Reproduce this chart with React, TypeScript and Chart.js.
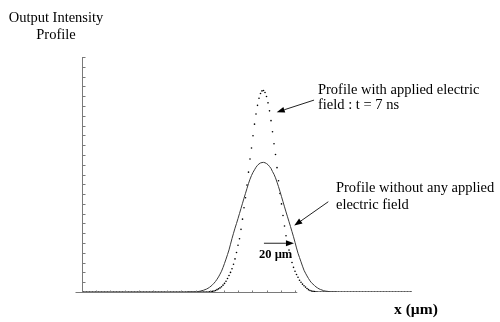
import React, { useEffect, useRef } from "react";
import { Chart, registerables } from "chart.js";

Chart.register(...registerables);

// ---- data (x in µm along the sample grid, intensity in arbitrary units) ----
const X_MIN = 0;
const X_MAX = 220;
const Y_MAX = 1.2;

// intensity with applied electric field (t = 7 ns), sampled every 1 µm from 0 to 220
const dottedProfile = [
  0, 0, 0, 0, 0, 0, 0, 0, 0, 0, 0, 0, 0, 0, 0, 0, 0, 0, 0, 0,
  0, 0, 0, 0, 0, 0, 0, 0, 0, 0, 0, 0, 0, 0, 0, 0, 0, 0, 0, 0,
  0, 0, 0, 0, 0, 0, 0, 0, 0, 0, 0, 0, 0, 0, 0, 0, 0, 0, 0, 0,
  0, 0, 0, 0, 0, 0, 0, 0, 0, 0, 0, 0, 0, 0, 0, 0, 0, 0, 0, 0,
  0, 0, 0, 0, 0,
  0.001, 0.002, 0.003, 0.005, 0.008, 0.012, 0.016, 0.021, 0.027, 0.035,
  0.044, 0.055, 0.069, 0.084, 0.1, 0.119, 0.142, 0.169, 0.202, 0.239,
  0.272, 0.32, 0.372, 0.43, 0.481, 0.546, 0.612, 0.679, 0.735, 0.798,
  0.857, 0.909, 0.953, 0.989, 1.014, 1.027, 1.029, 1.019, 0.998, 0.966,
  0.925, 0.875, 0.818, 0.757, 0.702, 0.635, 0.568, 0.503, 0.45, 0.391,
  0.337, 0.287, 0.253, 0.214, 0.18, 0.151, 0.126, 0.106, 0.089, 0.075,
  0.06, 0.05, 0.04, 0.032, 0.025, 0.018, 0.012, 0.008, 0.005, 0.003,
  0.002, 0.001,
  0, 0, 0, 0, 0, 0, 0, 0, 0, 0, 0, 0, 0, 0, 0, 0, 0, 0, 0, 0,
  0, 0, 0, 0, 0, 0, 0, 0, 0, 0, 0, 0, 0, 0, 0, 0, 0, 0, 0, 0,
  0, 0, 0, 0, 0, 0, 0, 0, 0, 0, 0, 0, 0, 0, 0, 0, 0, 0, 0, 0,
  0, 0, 0, 0,
];

// intensity without applied field, sampled every 1 µm from 70 to 170
const SOLID_START = 70;
const solidProfile = [
  0, 0, 0, 0, 0, 0,
  0.001, 0.002, 0.003, 0.005, 0.007, 0.009, 0.012, 0.015, 0.019, 0.024,
  0.03, 0.037, 0.045, 0.054, 0.065, 0.077, 0.091, 0.106, 0.125, 0.146,
  0.168, 0.191, 0.215, 0.244, 0.273, 0.3, 0.326, 0.35, 0.375, 0.401,
  0.427, 0.453, 0.479, 0.504, 0.529, 0.554, 0.576, 0.595, 0.611, 0.624,
  0.637, 0.647, 0.654, 0.659, 0.661, 0.662, 0.66, 0.656, 0.65, 0.641,
  0.631, 0.615, 0.601, 0.583, 0.561, 0.538, 0.513, 0.487, 0.461, 0.435,
  0.409, 0.384, 0.359, 0.334, 0.308, 0.282, 0.254, 0.225, 0.198, 0.176,
  0.154, 0.132, 0.111, 0.096, 0.082, 0.069, 0.057, 0.047, 0.04, 0.033,
  0.026, 0.021, 0.016, 0.013, 0.01, 0.007, 0.005, 0.004, 0.003, 0.001,
  0, 0, 0, 0, 0,
];

const yAxisTitle = ["Output Intensity", "Profile"];
const xAxisTitle = "x (\u00b5m)";
const withFieldLabel = ["Profile with applied electric", "field : t = 7 ns"];
const withoutFieldLabel = ["Profile without any applied", "electric field"];
const scaleBarLabel = "20 \u00b5m";

const Y_TICK_STEP = 0.05;
const X_TICK_STEP = 9.47;
const X_AXIS_END = 143.5;

const SERIF = '"Liberation Serif", "Times New Roman", serif';

function arrow(ctx: CanvasRenderingContext2D, x1: number, y1: number, x2: number, y2: number) {
  const ang = Math.atan2(y2 - y1, x2 - x1);
  const len = 8;
  const half = 3;
  const bx = x2 - len * Math.cos(ang);
  const by = y2 - len * Math.sin(ang);
  ctx.beginPath();
  ctx.moveTo(x1, y1);
  ctx.lineTo(bx, by);
  ctx.stroke();
  ctx.beginPath();
  ctx.moveTo(x2, y2);
  ctx.lineTo(bx + half * Math.sin(ang), by - half * Math.cos(ang));
  ctx.lineTo(bx - half * Math.sin(ang), by + half * Math.cos(ang));
  ctx.closePath();
  ctx.fill();
}

const overlayPlugin = {
  id: "overlay",
  afterDraw(chart: any) {
    const ctx: CanvasRenderingContext2D = chart.ctx;
    const xs = chart.scales.x;
    const ys = chart.scales.y;
    const px = (v: number) => xs.getPixelForValue(v);
    const py = (v: number) => ys.getPixelForValue(v);
    const x0 = Math.round(px(X_MIN)) + 0.5;
    const y0 = Math.round(py(0)) + 0.5;
    const yTop = py(Y_MAX);

    ctx.save();
    ctx.strokeStyle = "#7a7a7a";
    ctx.lineWidth = 1;
    // y axis
    ctx.beginPath();
    ctx.moveTo(x0, yTop);
    ctx.lineTo(x0, y0);
    ctx.stroke();
    for (let v = Y_TICK_STEP; v <= Y_MAX + 1e-9; v += Y_TICK_STEP) {
      const y = Math.round(py(v)) + 0.5;
      ctx.beginPath();
      ctx.moveTo(x0, y);
      ctx.lineTo(x0 + 3, y);
      ctx.stroke();
    }
    // x axis
    ctx.beginPath();
    ctx.moveTo(x0 - 7, y0);
    ctx.lineTo(px(X_AXIS_END), y0);
    ctx.stroke();
    for (let v = X_TICK_STEP; v <= X_AXIS_END; v += X_TICK_STEP) {
      const x = Math.round(px(v)) + 0.5;
      ctx.beginPath();
      ctx.moveTo(x, y0);
      ctx.lineTo(x, y0 - 2);
      ctx.stroke();
    }

    // arrows
    ctx.strokeStyle = "#222";
    ctx.fillStyle = "#000";
    arrow(ctx, px(154.7), py(0.98), px(129.8), py(0.918));
    arrow(ctx, px(164.2), py(0.461), px(141.5), py(0.339));
    arrow(ctx, px(121.3), py(0.249), px(141.3), py(0.249));

    // text
    ctx.fillStyle = "#000";
    ctx.textBaseline = "middle";
    ctx.font = `14.5px ${SERIF}`;
    ctx.textAlign = "center";
    ctx.fillText(yAxisTitle[0], 56, 18);
    ctx.fillText(yAxisTitle[1], 56, 35);

    ctx.textAlign = "left";
    ctx.fillText(withFieldLabel[0], px(157.3), py(1.03));
    ctx.fillText(withFieldLabel[1], px(157.3), py(0.952));
    ctx.fillText(withoutFieldLabel[0], px(169.3), py(0.53));
    ctx.fillText(withoutFieldLabel[1], px(169.3), py(0.442));

    ctx.font = `bold 12.5px ${SERIF}`;
    ctx.fillText(scaleBarLabel, px(118), py(0.188));

    ctx.font = `bold 15.5px ${SERIF}`;
    ctx.fillText(xAxisTitle, 394, 310);
    ctx.restore();
  },
};

export default function App() {
  const canvasRef = useRef<HTMLCanvasElement | null>(null);

  useEffect(() => {
    if (!canvasRef.current) return;
    const dottedPoints = dottedProfile.map((y, i) => ({ x: X_MIN + i, y }));
    const solidPoints = solidProfile.map((y, i) => ({ x: SOLID_START + i, y }));

    const chart = new Chart(canvasRef.current, {
      type: "line",
      data: {
        datasets: [
          {
            label: "without field",
            data: solidPoints,
            borderColor: "#3a3a3a",
            borderWidth: 1,
            pointRadius: 0,
            tension: 0,
            fill: false,
          },
          {
            label: "with field",
            data: dottedPoints,
            showLine: false,
            pointRadius: 0.8,
            pointBorderWidth: 0,
            pointBackgroundColor: "#000",
            borderColor: "#000",
          },
        ],
      },
      options: {
        responsive: false,
        animation: false,
        events: [],
        layout: { padding: { left: 82, top: 57, right: 88, bottom: 30 } },
        plugins: { legend: { display: false }, tooltip: { enabled: false } },
        scales: {
          x: { type: "linear", min: X_MIN, max: X_MAX, display: false },
          y: { type: "linear", min: 0, max: Y_MAX, display: false },
        },
      },
      plugins: [overlayPlugin],
    });
    return () => chart.destroy();
  }, []);

  return (
    <div style={{ position: "fixed", left: 0, top: 0, width: 500, height: 322, background: "#fff" }}>
      <canvas ref={canvasRef} width={500} height={322} style={{ display: "block", width: 500, height: 322 }} />
    </div>
  );
}
